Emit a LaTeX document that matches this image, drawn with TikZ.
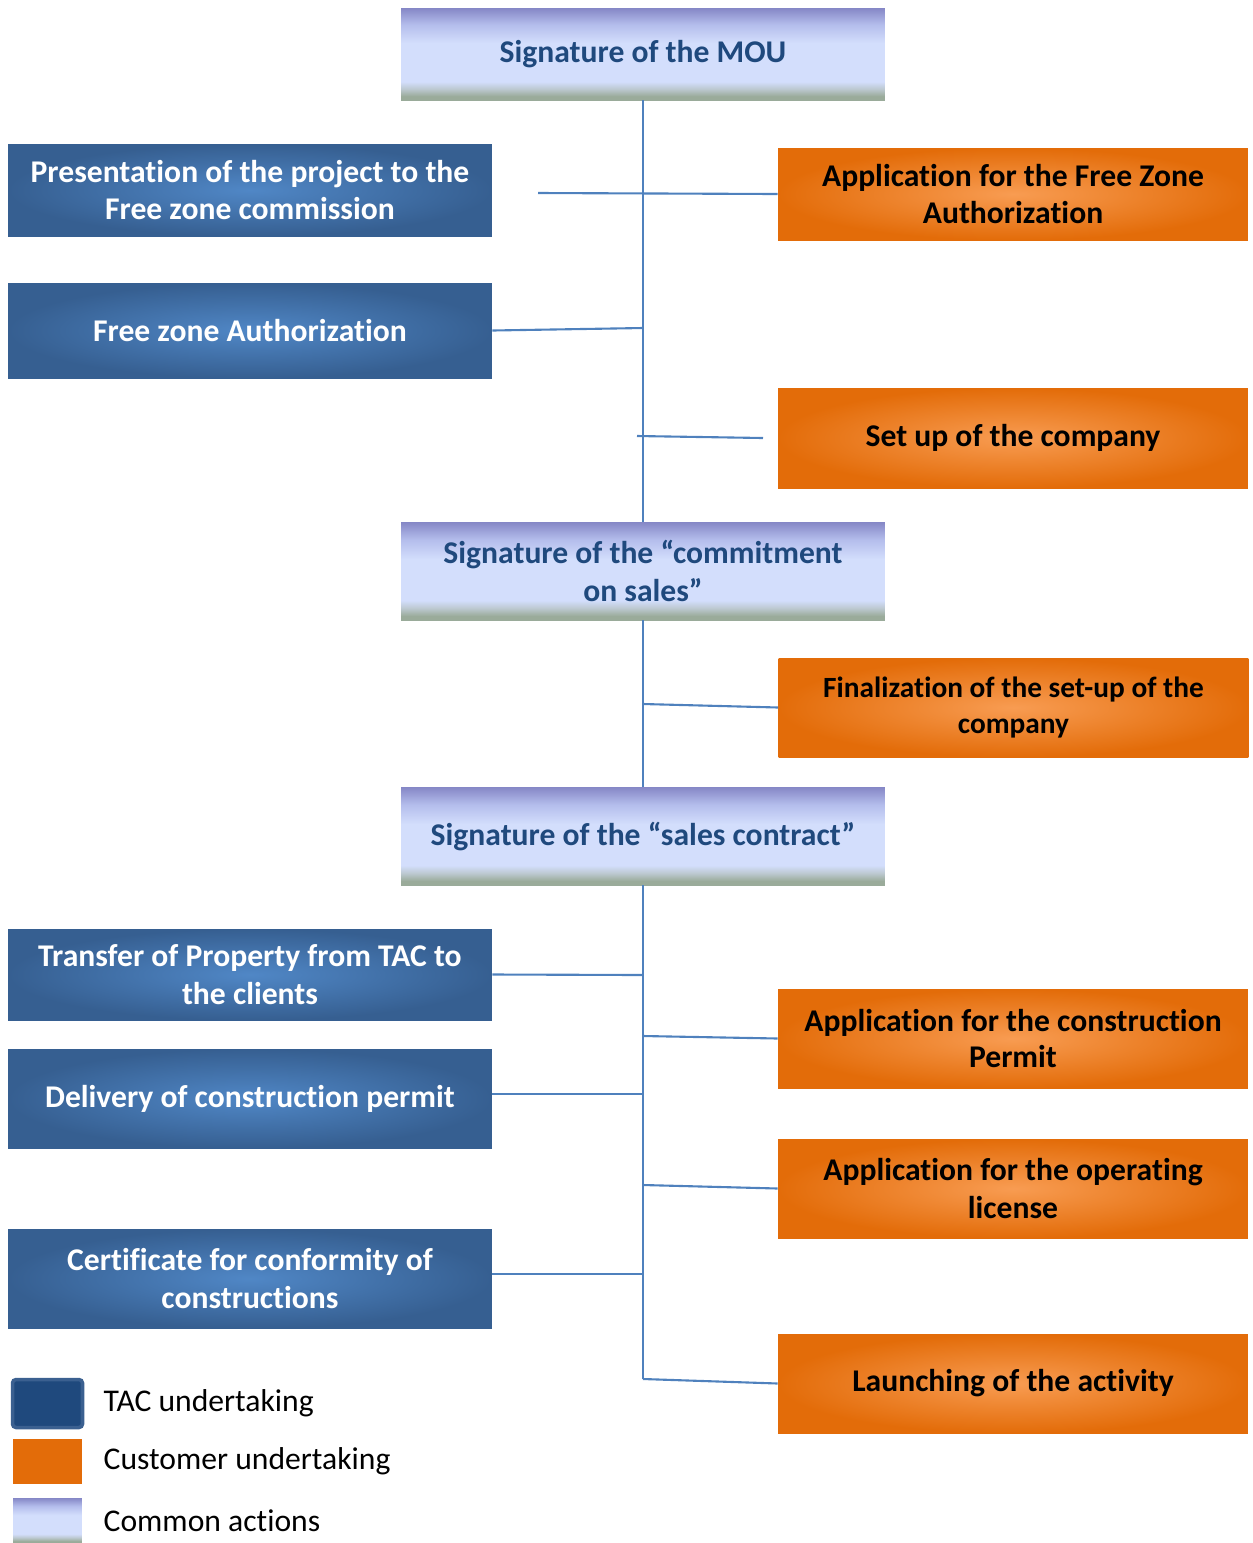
\documentclass[tikz,border=0pt]{standalone}
\usepackage{fontspec}
\setmainfont{Carlito}[Ligatures=NoCommon]
\usepackage{tikz}
\usetikzlibrary{positioning}

\definecolor{tacdark}{HTML}{365F91}
\definecolor{taclight}{HTML}{5087C6}
\definecolor{tacsolid}{HTML}{1F497D}
\definecolor{tacedge}{HTML}{3B6090}
\definecolor{custdark}{HTML}{E36C09}
\definecolor{custlight}{HTML}{F89C52}
\definecolor{commontop}{HTML}{8587C6}
\definecolor{commonmid}{HTML}{B4BDEC}
\definecolor{commonlight}{HTML}{D3DEFC}
\definecolor{commonfade}{HTML}{BCC8D0}
\definecolor{commonbase}{HTML}{9AAB9A}
\definecolor{linkblue}{HTML}{4F81BD}
\definecolor{titleblue}{HTML}{1F497D}

% the middle 50bp (25bp..75bp) is what tikz fits to the path
\pgfdeclareverticalshading{commonshade}{100bp}{color(0bp)=(commonbase); color(27bp)=(commonbase); color(31bp)=(commonfade); color(35bp)=(commonlight); color(56bp)=(commonlight); color(66bp)=(commonmid); color(75bp)=(commontop); color(100bp)=(commontop)}

\begin{document}
\begin{tikzpicture}[x=0.02cm, y=-0.02cm,
	boxfont/.style={font=\bfseries\fontsize{18}{21.5}\selectfont, align=center},
	tacbox/.style={rectangle, inner color=taclight, outer color=tacdark, text=white, minimum width=9.68cm, boxfont},
	custbox/.style={rectangle, inner color=custlight, outer color=custdark, text=black, minimum width=9.4cm, boxfont},
	commonbox/.style={rectangle, shading=commonshade, text=titleblue, minimum width=9.68cm, boxfont},
	link/.style={draw=linkblue, line width=1.2pt},
	legendtext/.style={font=\fontsize{18}{21}\selectfont, inner sep=0pt}]
				\useasboundingbox (0,0) rectangle (1252,1543);
				
				\node[commonbox, minimum height=1.84cm] (MOU) at (643,54) {Signature of the MOU};
				\node[commonbox, minimum height=1.96cm] (Commit) at (643,571) {Signature of the “commitment\\on sales”};
				\node[commonbox, minimum height=1.96cm] (Sales) at (643,836) {Signature of the “sales contract”};
				
				\node[tacbox, minimum height=1.84cm] (Present) at (250,190) {Presentation of the project to the\\Free zone commission};
				\node[tacbox, minimum height=1.9cm] (FZA) at (250,330.5) {Free zone Authorization};
				\node[tacbox, minimum height=1.82cm] (Transfer) at (250,974.5) {Transfer of Property from TAC to\\the clients};
				\node[tacbox, minimum height=1.98cm] (Delivery) at (250,1098.5) {Delivery of construction permit};
				\node[tacbox, minimum height=1.98cm] (Certif) at (250,1278.5) {Certificate for conformity of\\constructions};
				
				\node[custbox, minimum height=1.84cm] (AppZone) at (1013,194) {Application for the Free Zone\\Authorization};
				\node[custbox, minimum height=2cm] (SetUp) at (1013,438) {Set up of the company};
				\node[custbox, minimum height=1.98cm, font=\bfseries\fontsize{16.7}{20}\selectfont] (Final) at (1013.5,707.5) {Finalization of the set-up of the\\company};
				\node[custbox, minimum height=1.98cm, font=\bfseries\fontsize{18}{20.4}\selectfont] (Construct) at (1013,1038.5) {Application for the construction\\Permit};
				\node[custbox, minimum height=1.98cm] (Operating) at (1013,1188.5) {Application for the operating\\license};
				\node[custbox, minimum height=1.98cm] (Launch) at (1013,1383.5) {Launching of the activity};
				
				% spine
				\coordinate (SpineEnd) at (643,1379);
				\draw[link] (MOU.south) -- (Commit.north);
				\draw[link] (Commit.south) -- (Sales.north);
				\draw[link] (Sales.south) -- (SpineEnd);
				
				% branches
				\coordinate (J1) at (538,193);
				\coordinate (J2) at (643,328);
				\coordinate (J3a) at (637,436);
				\coordinate (J3b) at (763,438);
				\coordinate (J4) at (643,704);
				\coordinate (J5) at (643,975);
				\coordinate (J6) at (643,1036);
				\coordinate (J7) at (643,1094);
				\coordinate (J8) at (643,1185);
				\coordinate (J9) at (643,1274);
				\draw[link] (J1) -- (AppZone.west);
				\draw[link] (FZA.east) -- (J2);
				\draw[link] (J3a) -- (J3b);
				\draw[link] (J4) -- (Final.west);
				\draw[link] (Transfer.east) -- (J5);
				\draw[link] (J6) -- (Construct.west);
				\draw[link] (Delivery.east |- J7) -- (J7);
				\draw[link] (J8) -- (Operating.west);
				\draw[link] (Certif.east |- J9) -- (J9);
				\draw[link] (SpineEnd) -- (Launch.west);
				
				% legend
				\node[rectangle, rounded corners=2pt, fill=tacsolid, draw=tacedge, line width=2pt, minimum width=1.4cm, minimum height=0.96cm] (LegTac) at (47.5,1403.5) {};
				\node[rectangle, fill=custdark, minimum width=1.38cm, minimum height=0.9cm] (LegCust) at (47.5,1461.5) {};
				\node[rectangle, shading=commonshade, minimum width=1.38cm, minimum height=0.9cm] (LegCommon) at (47.5,1520.5) {};
				\node[legendtext, right=0.38cm of LegTac] {TAC undertaking};
				\node[legendtext, right=0.42cm of LegCust] {Customer undertaking};
				\node[legendtext, right=0.42cm of LegCommon] {Common actions};
			\end{tikzpicture}
\end{document}
